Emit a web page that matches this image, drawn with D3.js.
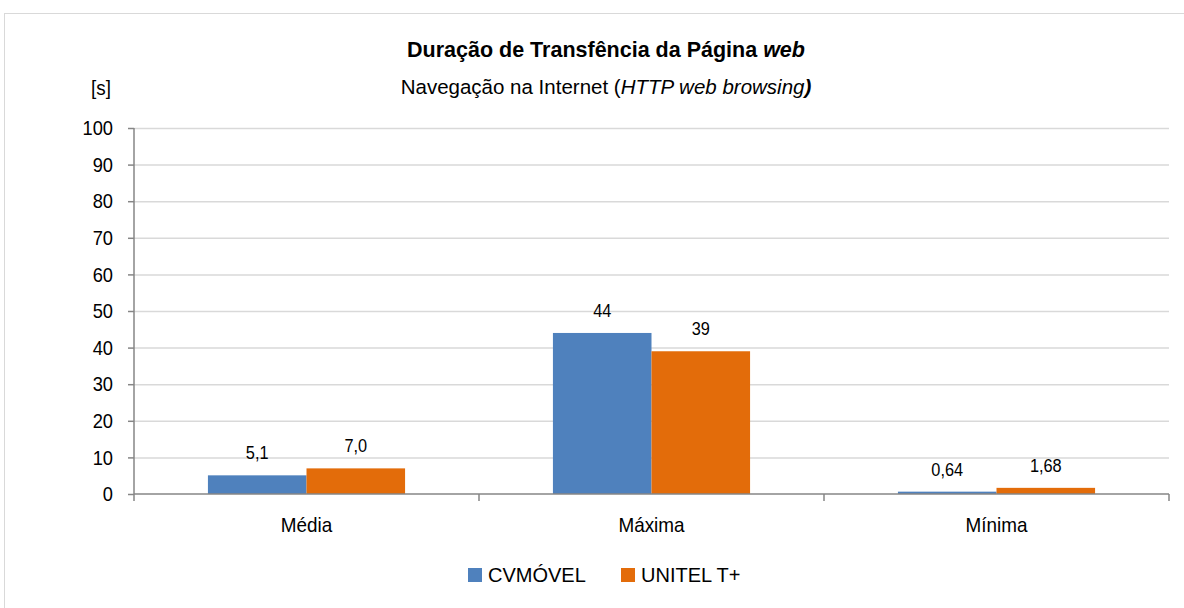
<!DOCTYPE html>
<html>
<head>
<meta charset="utf-8">
<script src="https://cdn.jsdelivr.net/npm/d3@7"></script>
<style>
  body { margin: 0; background: #fff; }
  svg text { font-family: "Liberation Sans Narrow", "Arial Narrow", "Liberation Sans", sans-serif; fill: #000; }
</style>
</head>
<body>
<svg id="chart" width="1184" height="608"></svg>
<script>
// data
const categories = ["Média", "Máxima", "Mínima"];
const series = ["CVMÓVEL", "UNITEL T+"];
const cvmovel = [5.1, 44, 0.64];
const unitel = [7.0, 39, 1.68];
const cvmovelLabels = ["5,1", "44", "0,64"];
const unitelLabels = ["7,0", "39", "1,68"];
const yTicks = [0, 10, 20, 30, 40, 50, 60, 70, 80, 90, 100];
const colors = ["#4f81bd", "#e36c0a"];

const width = 1184, height = 608;
const margin = { top: 128, right: 15, bottom: 114, left: 134 };

const svg = d3.select("#chart");

// squeeze text horizontally to get the narrow look of the original
function narrow(sel, s) {
  sel.each(function () {
    const t = d3.select(this);
    const x = +t.attr("x") || 0;
    t.attr("x", x / s).attr("transform", `scale(${s},1)`);
  });
}

// outer frame (runs off the right/bottom edges)
svg.append("rect")
  .attr("x", 4.5).attr("y", 13.5)
  .attr("width", 1200).attr("height", 620)
  .attr("fill", "none")
  .attr("stroke", "#d9d9d9");

svg.append("text")
  .attr("x", 606).attr("y", 57)
  .attr("text-anchor", "middle")
  .attr("font-size", 21.5)
  .attr("font-weight", "bold")
  .call(t => {
    t.append("tspan").text("Duração de Transfência da Página ");
    t.append("tspan").attr("font-style", "italic").text("web");
  });

svg.append("text")
  .attr("x", 606).attr("y", 94)
  .attr("text-anchor", "middle")
  .attr("font-size", 20.5)
  .call(t => {
    t.append("tspan").text("Navegação na Internet (");
    t.append("tspan").attr("font-style", "italic").text("HTTP web browsing");
    t.append("tspan").attr("font-style", "italic").attr("font-weight", "bold").text(")");
  });

svg.append("text")
  .attr("x", 101).attr("y", 95)
  .attr("text-anchor", "middle")
  .attr("font-size", 21)
  .call(narrow, 0.9)
  .text("[s]");

const x0 = d3.scaleBand()
  .domain(categories)
  .range([margin.left, width - margin.right])
  .paddingInner(0).paddingOuter(0);

const x1 = d3.scaleBand()
  .domain(series)
  .range([0, x0.bandwidth()])
  .paddingInner(0).paddingOuter(0.75);

const y = d3.scaleLinear()
  .domain([0, 100])
  .range([height - margin.bottom, margin.top]);

// gridlines
svg.append("g")
  .selectAll("line")
  .data(yTicks.filter(d => d > 0))
  .join("line")
  .attr("x1", margin.left).attr("x2", width - margin.right)
  .attr("y1", d => y(d) + 0.5).attr("y2", d => y(d) + 0.5)
  .attr("stroke", "#d9d9d9")
  .attr("stroke-width", 1.5);

// bars
const rows = categories.map((c, i) => ({ cat: c, vals: [cvmovel[i], unitel[i]], labels: [cvmovelLabels[i], unitelLabels[i]] }));

const groups = svg.append("g")
  .selectAll("g")
  .data(rows)
  .join("g")
  .attr("transform", d => `translate(${x0(d.cat)},0)`);

groups.selectAll("rect")
  .data(d => series.map((s, j) => ({ s, v: d.vals[j], j })))
  .join("rect")
  .attr("x", d => x1(d.s))
  .attr("y", d => y(d.v))
  .attr("width", x1.bandwidth())
  .attr("height", d => y(0) - y(d.v))
  .attr("fill", d => colors[d.j]);

groups.selectAll("text")
  .data(d => series.map((s, j) => ({ s, v: d.vals[j], label: d.labels[j] })))
  .join("text")
  .attr("x", d => x1(d.s) + x1.bandwidth() / 2)
  .attr("y", d => y(d.v) - 16)
  .attr("text-anchor", "middle")
  .attr("font-size", 19)
  .text(d => d.label)
  .call(narrow, 0.86);

// y axis
const yAxis = svg.append("g")
  .attr("transform", `translate(${margin.left},0)`)
  .call(d3.axisLeft(y).tickValues(yTicks).tickSize(6).tickPadding(15));
yAxis.selectAll("path, line").attr("stroke", "#868686").attr("stroke-width", 1.5);
yAxis.select(".domain").attr("d", `M0,${y(100)}V${y(0)}`);
yAxis.selectAll("text").attr("font-size", 21).attr("fill", "#000").call(narrow, 0.87);

// x axis with ticks at category boundaries
const xAxis = svg.append("g")
  .attr("transform", `translate(0,${y(0)})`);
xAxis.append("line")
  .attr("x1", margin.left).attr("x2", width - margin.right)
  .attr("stroke", "#868686").attr("stroke-width", 1.5);
const bounds = categories.map(c => x0(c)).concat([x0.range()[1]]);
xAxis.selectAll(".tick")
  .data(bounds)
  .join("line")
  .attr("class", "tick")
  .attr("x1", d => d).attr("x2", d => d)
  .attr("y1", 0).attr("y2", 7)
  .attr("stroke", "#868686").attr("stroke-width", 1.5);
xAxis.selectAll("text")
  .data(categories)
  .join("text")
  .attr("x", d => x0(d) + x0.bandwidth() / 2)
  .attr("y", 38)
  .attr("text-anchor", "middle")
  .attr("font-size", 21)
  .text(d => d)
  .call(narrow, 0.9);

// legend
const legend = svg.append("g").attr("transform", "translate(468,568)");
const legendX = [0, 153];
series.forEach((s, i) => {
  const g = legend.append("g").attr("transform", `translate(${legendX[i]},0)`);
  g.append("rect").attr("width", 14).attr("height", 14).attr("fill", colors[i]);
  g.append("text").attr("x", 20).attr("y", 14).attr("font-size", 20).text(s);
});
</script>
</body>
</html>
